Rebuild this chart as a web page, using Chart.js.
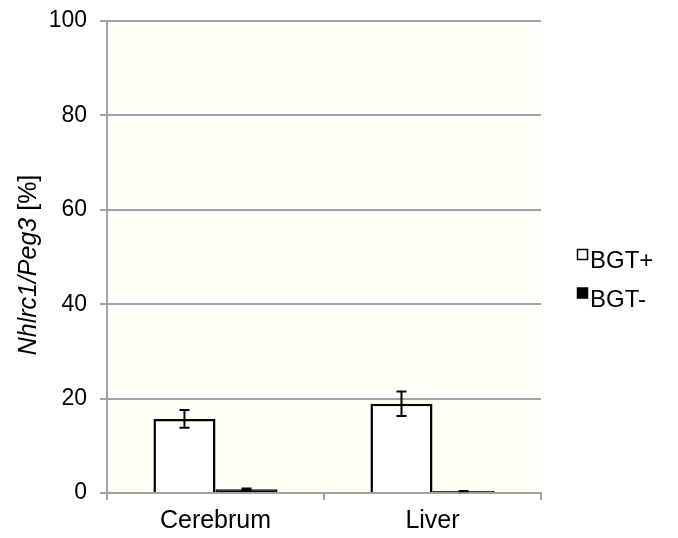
<!DOCTYPE html>
<html>
<head>
<meta charset="utf-8">
<script src="https://cdn.jsdelivr.net/npm/chart.js@4/dist/chart.umd.min.js"></script>
<style>
  html, body { margin: 0; padding: 0; background: #ffffff; }
  #wrap { width: 678px; height: 538px; position: relative; }
</style>
</head>
<body>
<div id="wrap"><canvas id="chart" width="678" height="538"></canvas></div>
<script>
// Tissues and measured ratios (percent)
const categories = ['Cerebrum', 'Liver'];
const bgtPlus = [15.7, 18.9];
const bgtPlusErr = [1.9, 2.6];
const bgtMinus = [0.8, 0.4];
const bgtMinusErr = [0.15, 0.05];
const seriesNames = ['BGT+', 'BGT-'];
const yTicks = [0, 20, 40, 60, 80, 100];

const FONT = 'Liberation Sans, Arial, Helvetica, sans-serif';
const GRID = '#a3a3a3';

// Cream fill behind the plot area
const plotBackground = {
  id: 'plotBackground',
  beforeDraw(chart) {
    const { ctx, chartArea: a } = chart;
    ctx.save();
    ctx.fillStyle = '#fffff7';
    ctx.fillRect(a.left, a.top, a.right - a.left, a.bottom - a.top);
    ctx.restore();
  }
};

// Standard-deviation whiskers on each bar
const errorBars = {
  id: 'errorBars',
  afterDatasetsDraw(chart) {
    const { ctx } = chart;
    const y = chart.scales.y;
    ctx.save();
    ctx.strokeStyle = '#000';
    ctx.lineWidth = 2;
    chart.data.datasets.forEach((ds, di) => {
      const meta = chart.getDatasetMeta(di);
      meta.data.forEach((bar, i) => {
        const v = ds.data[i], e = ds.errors[i];
        if (!e) return;
        const yt = y.getPixelForValue(v + e);
        const yb = y.getPixelForValue(v - e);
        const x = bar.x, cap = 5;
        ctx.beginPath();
        ctx.moveTo(x, yt); ctx.lineTo(x, yb);
        ctx.moveTo(x - cap, yt); ctx.lineTo(x + cap, yt);
        ctx.moveTo(x - cap, yb); ctx.lineTo(x + cap, yb);
        ctx.stroke();
      });
    });
    ctx.restore();
  }
};

// Y axis title with italic gene names and upright unit
const yTitle = {
  id: 'yTitle',
  afterDraw(chart) {
    const { ctx } = chart;
    const italicPart = 'Nhlrc1/Peg3';
    const plainPart = ' [%]';
    const size = 25;
    ctx.save();
    ctx.font = 'italic ' + size + 'px ' + FONT;
    const w1 = ctx.measureText(italicPart).width;
    ctx.font = size + 'px ' + FONT;
    const w2 = ctx.measureText(plainPart).width;
    const total = w1 + w2;
    const cy = 265;
    ctx.translate(36, cy);
    ctx.rotate(-Math.PI / 2);
    ctx.fillStyle = '#000';
    ctx.textBaseline = 'alphabetic';
    ctx.textAlign = 'left';
    ctx.font = 'italic ' + size + 'px ' + FONT;
    ctx.fillText(italicPart, -total / 2, 0);
    ctx.font = size + 'px ' + FONT;
    ctx.fillText(plainPart, -total / 2 + w1, 0);
    ctx.restore();
  }
};

// Legend at the right of the plot
const sideLegend = {
  id: 'sideLegend',
  afterDraw(chart) {
    const { ctx } = chart;
    ctx.save();
    ctx.font = '24px ' + FONT;
    ctx.textBaseline = 'alphabetic';
    ctx.textAlign = 'left';
    chart.data.datasets.forEach((ds, i) => {
      const top = 249 + i * 38.5;
      ctx.fillStyle = ds.backgroundColor;
      ctx.fillRect(577.5, top + 0.5, 10, 10);
      ctx.strokeStyle = '#000';
      ctx.lineWidth = 1.5;
      ctx.strokeRect(577.5, top + 0.5, 10, 10);
      ctx.fillStyle = '#000';
      ctx.fillText(ds.label, 590, top + 19);
    });
    ctx.restore();
  }
};

new Chart(document.getElementById('chart'), {
  type: 'bar',
  data: {
    labels: categories,
    datasets: [
      {
        label: seriesNames[0],
        data: bgtPlus,
        errors: bgtPlusErr,
        backgroundColor: '#ffffff',
        borderColor: '#000000',
        borderWidth: 2.5
      },
      {
        label: seriesNames[1],
        data: bgtMinus,
        errors: bgtMinusErr,
        backgroundColor: '#000000',
        borderColor: '#000000',
        borderWidth: 2
      }
    ]
  },
  options: {
    responsive: false,
    animation: false,
    events: [],
    layout: { padding: { left: 0, right: 137, top: 21, bottom: 0 } },
    datasets: {
      bar: { categoryPercentage: 0.572, barPercentage: 1.0 }
    },
    plugins: {
      legend: { display: false },
      tooltip: { enabled: false },
      title: { display: false }
    },
    scales: {
      x: {
        afterFit(scale) {
          scale.height = 45;
          scale.paddingLeft = 0;
          scale.paddingRight = 0;
        },
        grid: {
          offset: true,
          drawOnChartArea: false,
          drawTicks: true,
          tickLength: 7,
          color: GRID,
          lineWidth: 2
        },
        border: { display: true, color: GRID, width: 2 },
        ticks: {
          color: '#000',
          font: { family: FONT, size: 25 },
          padding: 6
        }
      },
      y: {
        min: 0,
        max: 100,
        afterFit(scale) {
          scale.width = 107;
          scale.paddingTop = 0;
          scale.paddingBottom = 0;
        },
        afterBuildTicks(scale) {
          scale.ticks = yTicks.map(v => ({ value: v }));
        },
        grid: {
          drawOnChartArea: true,
          drawTicks: true,
          tickLength: 7,
          color: GRID,
          lineWidth: 2
        },
        border: { display: true, color: GRID, width: 2 },
        ticks: {
          color: '#000',
          font: { family: FONT, size: 23 },
          padding: 13
        }
      }
    }
  },
  plugins: [plotBackground, errorBars, yTitle, sideLegend]
});
</script>
</body>
</html>
